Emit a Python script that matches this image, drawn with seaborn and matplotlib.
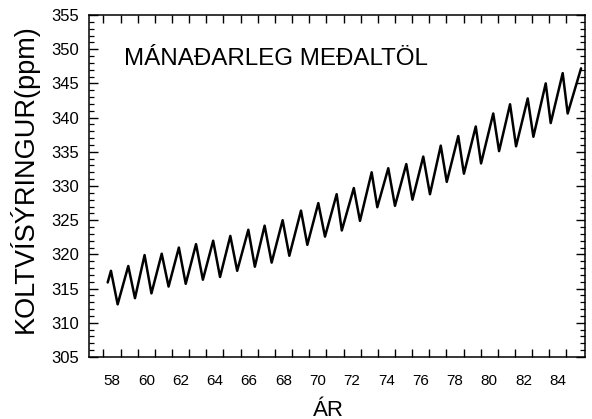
import matplotlib
matplotlib.use("Agg")
import matplotlib.pyplot as plt
import seaborn as sns
import pandas as pd
import numpy as np
from matplotlib.ticker import MultipleLocator, FixedLocator

# Monthly-mean CO2 curve: seasonal peaks and troughs
time_year = [1958.25, 1958.44, 1958.83, 1959.45, 1959.84, 1960.40, 1960.80,
             1961.40, 1961.80, 1962.40, 1962.80, 1963.40, 1963.80, 1964.40,
             1964.80, 1965.40, 1965.80, 1966.45, 1966.83, 1967.40, 1967.81,
             1968.45, 1968.84, 1969.52, 1969.89, 1970.53, 1970.92, 1971.60,
             1971.90, 1972.60, 1972.96, 1973.64, 1973.97, 1974.61, 1975.00,
             1975.66, 1976.02, 1976.65, 1977.04, 1977.67, 1978.02, 1978.69,
             1979.02, 1979.71, 1980.02, 1980.73, 1981.07, 1981.71, 1982.06,
             1982.74, 1983.07, 1983.79, 1984.08, 1984.78, 1985.07, 1985.85]
co2_ppm = [315.9, 317.6, 312.7, 318.3, 313.6, 319.9, 314.3,
           320.1, 315.3, 321.0, 315.7, 321.5, 316.3, 322.0,
           316.7, 322.7, 317.6, 323.6, 318.2, 324.2, 318.8,
           325.0, 319.8, 326.4, 321.4, 327.5, 322.6, 328.8,
           323.5, 329.7, 324.9, 332.0, 326.9, 332.6, 327.1,
           333.2, 328.0, 334.3, 328.8, 335.9, 330.6, 337.3,
           331.8, 338.7, 333.3, 340.6, 335.1, 341.95, 335.8,
           342.8, 337.2, 345.0, 339.2, 346.5, 340.6, 347.2]

x_tick_years = list(range(1958, 1985, 2))
x_tick_labels = [f"{y % 100:02d}" for y in x_tick_years]
y_ticks = list(range(305, 356, 5))

title_text = "MÁNAÐARLEG MEÐALTÖL"
x_label = "ÁR"
y_label = "KOLTVÍSÝRINGUR(ppm)"

df = pd.DataFrame({"time": time_year, "co2": co2_ppm})

sns.set_style("ticks")
plt.rcParams["font.family"] = ["Liberation Sans", "DejaVu Sans"]
plt.rcParams["text.color"] = "black"
plt.rcParams["axes.labelcolor"] = "black"
plt.rcParams["xtick.color"] = "black"
plt.rcParams["ytick.color"] = "black"

fig = plt.figure(figsize=(5.92, 4.19), dpi=100)
ax = fig.add_axes([89/592, 1 - 357/419, 496/592, 342/419])

sns.lineplot(data=df, x="time", y="co2", ax=ax, color="black",
             linewidth=1.8, sort=False)
for l in ax.lines:
    l.set_solid_joinstyle("round")
    l.set_solid_capstyle("round")

ax.set_xlim(1957.16, 1986.08)
ax.set_ylim(305, 355)

# x: labels centred on each year, tick marks at year boundaries
ax.set_xticks([y + 0.5 for y in x_tick_years])
ax.set_xticklabels(x_tick_labels, fontsize=11, color="black")
ax.xaxis.set_minor_locator(FixedLocator(list(range(1958, 1986))))
ax.tick_params(axis="x", which="major", length=0, pad=12, labelcolor="black")
ax.tick_params(axis="x", which="minor", direction="in", length=6,
               width=1.0, top=True, bottom=True, color="black")

ax.set_yticks(y_ticks)
ax.set_yticklabels([str(v) for v in y_ticks], fontsize=12, color="black")
ax.yaxis.set_minor_locator(MultipleLocator(1))
ax.tick_params(axis="y", which="major", direction="in", length=6.5,
               width=1.0, left=True, right=True, pad=7, color="black",
               labelcolor="black")
ax.tick_params(axis="y", which="minor", direction="in", length=3.6,
               width=0.9, left=True, right=True, color="black")

for s in ax.spines.values():
    s.set_visible(True)
    s.set_linewidth(1.1)
    s.set_color("black")

ax.set_xlabel(x_label, fontsize=16, color="black")
ax.set_ylabel(y_label, fontsize=19.5, color="black")
ax.xaxis.label.set_verticalalignment("center")
ax.xaxis.set_label_coords((328 - 89) / 496, (357 - 410) / 342)
ax.yaxis.label.set_verticalalignment("center")
ax.yaxis.set_label_coords((24 - 89) / 496, (357 - 179) / 342)

ax.text((124 - 89) / 496, (357 - 65) / 342, title_text, transform=ax.transAxes,
        fontsize=17.4, ha="left", va="baseline", color="black")

fig.savefig("out.png", dpi=100)
